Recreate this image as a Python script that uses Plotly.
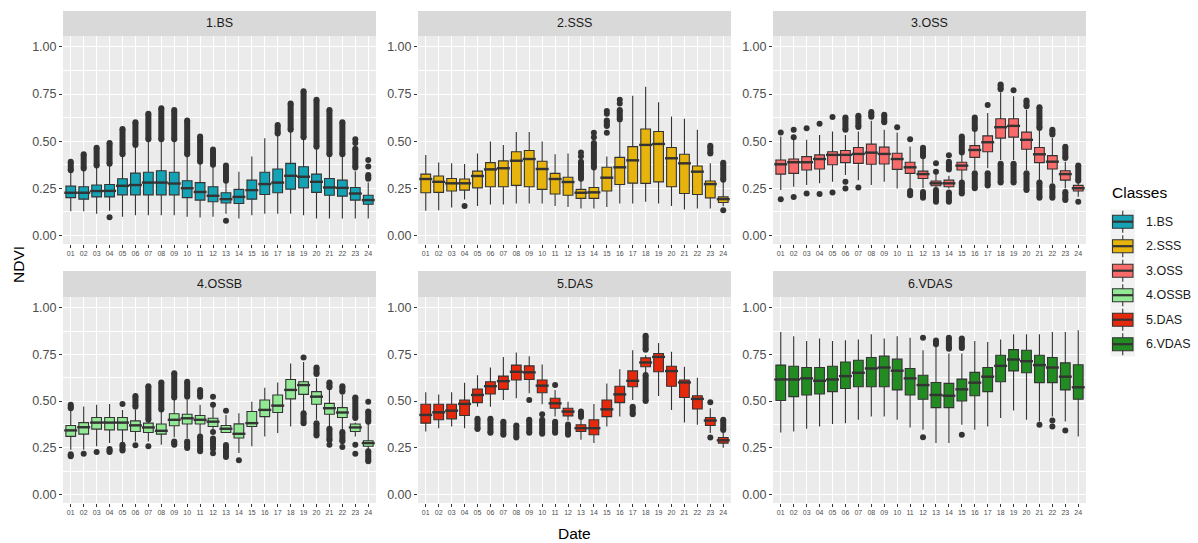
import plotly.graph_objects as go

# ---------------------------------------------------------------- data
DATES = ["01", "02", "03", "04", "05", "06", "07", "08", "09", "10", "11", "12",
         "13", "14", "15", "16", "17", "18", "19", "20", "21", "22", "23", "24"]
CLASSES = ["1.BS", "2.SSS", "3.OSS", "4.OSSB", "5.DAS", "6.VDAS"]
COLORS = ["#13A3B4", "#E6B40C", "#F86B6A", "#93E895", "#E6290C", "#228B22"]

# 1.BS
BS_LO  = [.128, .128, .115, .130, .098, .107, .107, .107, .107, .098, .094, .098, .115, .089, .107, .115, .115, .115, .107, .089, .089, .089, .089, .089]
BS_Q1  = [.200, .192, .204, .204, .215, .215, .215, .215, .215, .200, .187, .178, .172, .169, .192, .217, .226, .245, .252, .228, .213, .208, .187, .165]
BS_MED = [.226, .226, .235, .236, .263, .267, .280, .280, .275, .250, .230, .210, .192, .204, .240, .272, .280, .316, .311, .284, .254, .252, .222, .187]
BS_Q3  = [.261, .258, .267, .270, .300, .330, .335, .343, .335, .290, .280, .258, .226, .244, .293, .335, .352, .382, .364, .325, .302, .293, .254, .213]
BS_HI  = [.335, .345, .360, .370, .420, .470, .500, .500, .500, .420, .380, .370, .280, .338, .418, .515, .530, .550, .510, .460, .420, .420, .340, .280]
BS_RUNS = [("01", .345, .390), ("02", .355, .430), ("03", .370, .465), ("04", .380, .490),
           ("05", .430, .565), ("06", .480, .600), ("07", .510, .645), ("08", .510, .675),
           ("09", .510, .665), ("10", .430, .610), ("11", .390, .525), ("12", .375, .455),
           ("13", .290, .370), ("17", .540, .585), ("18", .560, .700), ("19", .520, .765),
           ("20", .470, .720), ("21", .430, .665), ("22", .430, .600), ("23", .360, .460),
           ("24", .300, .320)]
BS_PTS = [("04", .096), ("13", .078), ("23", .510), ("23", .490), ("24", .365), ("24", .400)]

# 2.SSS
SSS_LO  = [.130, .133, .148, .190, .156, .164, .164, .169, .169, .169, .156, .151, .142, .142, .151, .169, .169, .178, .169, .156, .137, .142, .142, .155]
SSS_Q1  = [.226, .228, .235, .240, .252, .258, .258, .265, .258, .244, .219, .213, .196, .196, .235, .270, .277, .276, .284, .258, .222, .217, .199, .174]
SSS_MED = [.299, .284, .276, .276, .315, .350, .356, .396, .405, .352, .299, .283, .226, .228, .306, .361, .398, .480, .485, .409, .382, .338, .272, .192]
SSS_Q3  = [.325, .315, .302, .299, .341, .386, .395, .444, .450, .393, .329, .308, .244, .254, .361, .414, .471, .564, .551, .466, .430, .368, .288, .204]
SSS_HI  = [.427, .386, .382, .379, .435, .498, .480, .548, .548, .498, .430, .435, .290, .350, .418, .600, .741, .788, .706, .631, .619, .560, .382, .285]
SSS_RUNS = [("13", .300, .390), ("14", .360, .490), ("15", .580, .610), ("16", .615, .665),
            ("23", .435, .475), ("24", .295, .385)]
SSS_PTS = [("04", .156), ("13", .420), ("13", .440), ("14", .520), ("14", .545),
           ("15", .545), ("15", .645), ("15", .660), ("16", .700), ("16", .720), ("24", .133)]

# 3.OSS
OSS_LO  = [.240, .258, .267, .276, .284, .320, .293, .267, .284, .249, .249, .250, .249, .249, .284, .347, .356, .400, .400, .347, .293, .276, .249, .205]
OSS_Q1  = [.325, .329, .347, .352, .375, .386, .382, .377, .379, .350, .329, .302, .263, .258, .347, .414, .444, .516, .521, .457, .386, .352, .293, .235]
OSS_MED = [.377, .388, .388, .405, .427, .427, .432, .439, .432, .405, .361, .325, .276, .276, .370, .453, .494, .574, .581, .507, .430, .391, .325, .250]
OSS_Q3  = [.400, .405, .418, .427, .444, .450, .466, .484, .468, .436, .388, .341, .288, .293, .388, .476, .528, .619, .619, .548, .466, .423, .343, .265]
OSS_HI  = [.524, .507, .507, .533, .551, .533, .551, .608, .560, .546, .471, .409, .329, .316, .471, .551, .649, .759, .738, .667, .556, .516, .391, .280]
OSS_RUNS = [("06", .560, .625), ("07", .575, .635), ("08", .630, .654), ("09", .600, .640),
            ("12", .420, .465), ("14", .350, .390), ("15", .440, .525), ("16", .565, .625),
            ("18", .775, .800), ("20", .685, .715), ("21", .570, .680), ("22", .535, .560),
            ("23", .410, .470), ("24", .290, .370),
            ("11", .213, .235), ("12", .200, .230), ("13", .178, .240), ("14", .178, .228),
            ("15", .222, .280), ("16", .250, .330), ("17", .265, .330), ("18", .280, .380),
            ("19", .280, .380), ("20", .240, .330), ("21", .200, .280), ("22", .200, .260),
            ("23", .187, .230)]
OSS_PTS = [("01", .546), ("01", .192), ("02", .560), ("02", .520), ("02", .204),
           ("03", .569), ("03", .222), ("04", .592), ("04", .219), ("05", .628), ("05", .228),
           ("06", .284), ("06", .249), ("07", .254), ("10", .574), ("11", .510),
           ("13", .382), ("13", .338), ("14", .425), ("17", .692), ("19", .770), ("24", .178)]

# 4.OSSB
OSSB_LO  = [.240, .240, .258, .275, .279, .284, .284, .266, .307, .302, .320, .346, .329, .222, .258, .311, .329, .364, .444, .400, .364, .346, .311, .240]
OSSB_Q1  = [.311, .323, .350, .346, .346, .337, .332, .323, .368, .377, .377, .364, .332, .302, .364, .417, .439, .512, .536, .483, .430, .412, .337, .258]
OSSB_MED = [.343, .360, .385, .385, .385, .370, .359, .341, .400, .408, .400, .390, .352, .325, .382, .453, .476, .560, .586, .524, .462, .439, .359, .275]
OSSB_Q3  = [.369, .385, .412, .412, .412, .394, .382, .377, .432, .430, .423, .408, .369, .378, .444, .506, .533, .616, .604, .551, .488, .465, .377, .288]
OSSB_HI  = [.456, .471, .480, .485, .453, .453, .395, .450, .506, .506, .480, .471, .426, .435, .497, .572, .600, .702, .710, .622, .560, .533, .385, .380]
OSSB_RUNS = [("01", .462, .480), ("06", .470, .527), ("07", .400, .580), ("08", .455, .600),
             ("09", .520, .650), ("10", .524, .604), ("11", .524, .560), ("20", .645, .680),
             ("21", .574, .600), ("22", .550, .580), ("23", .410, .520), ("24", .390, .445),
             ("01", .205, .215), ("04", .227, .243), ("05", .236, .266), ("09", .266, .284),
             ("10", .249, .284), ("11", .231, .311), ("12", .260, .300), ("13", .200, .265),
             ("19", .382, .435), ("20", .316, .382), ("21", .290, .352), ("22", .285, .334),
             ("24", .178, .231)]
OSSB_PTS = [("02", .218), ("03", .227), ("05", .485), ("06", .263), ("07", .258),
            ("12", .524), ("12", .480), ("12", .335), ("12", .245), ("12", .220),
            ("13", .448), ("14", .183), ("19", .734), ("21", .266), ("22", .254),
            ("23", .266), ("23", .218), ("24", .497)]

# 5.DAS
DAS_LO  = [.337, .355, .364, .355, .470, .470, .506, .515, .542, .483, .417, .396, .293, .275, .364, .417, .506, .645, .528, .453, .385, .373, .329, .250]
DAS_Q1  = [.382, .400, .405, .423, .492, .538, .563, .613, .616, .545, .462, .421, .337, .320, .417, .492, .577, .684, .657, .580, .519, .458, .369, .275]
DAS_MED = [.426, .440, .449, .485, .533, .580, .607, .657, .654, .583, .488, .444, .355, .355, .456, .536, .609, .707, .737, .661, .600, .512, .396, .290]
DAS_Q3  = [.483, .483, .483, .506, .565, .604, .634, .693, .689, .613, .515, .462, .373, .400, .506, .580, .662, .732, .755, .687, .613, .529, .412, .305]
DAS_HI  = [.547, .536, .547, .599, .639, .680, .737, .760, .741, .696, .560, .497, .408, .485, .595, .671, .773, .746, .812, .764, .684, .625, .462, .330]
DAS_RUNS = [("05", .350, .405), ("06", .330, .405), ("07", .320, .390), ("08", .305, .370),
            ("09", .330, .400), ("10", .325, .400), ("11", .330, .390), ("12", .320, .375),
            ("17", .430, .470), ("18", .500, .640), ("13", .415, .445), ("18", .775, .850),
            ("24", .345, .400)]
DAS_PTS = [("09", .506), ("10", .430), ("11", .586), ("23", .494), ("23", .305)]

# 6.VDAS
VDAS_LO  = [.332, .337, .352, .364, .377, .382, .400, .417, .417, .400, .359, .346, .275, .275, .373, .346, .364, .409, .450, .400, .391, .417, .391, .311]
VDAS_Q1  = [.503, .524, .533, .538, .551, .568, .577, .577, .577, .560, .533, .510, .465, .465, .501, .529, .551, .604, .662, .652, .599, .599, .560, .510]
VDAS_MED = [.616, .616, .622, .609, .616, .634, .652, .675, .680, .663, .622, .586, .533, .529, .563, .599, .631, .689, .723, .714, .693, .680, .631, .574]
VDAS_Q3  = [.693, .687, .680, .680, .687, .710, .719, .734, .741, .725, .675, .639, .600, .595, .618, .654, .680, .746, .776, .773, .746, .734, .705, .695]
VDAS_HI  = [.870, .847, .822, .835, .822, .826, .830, .858, .835, .847, .840, .773, .790, .755, .755, .822, .817, .830, .858, .858, .858, .870, .870, .880]
VDAS_RUNS = [("13", .805, .825), ("14", .780, .840), ("15", .785, .835)]
VDAS_PTS = [("12", .840), ("12", .307), ("15", .320), ("21", .373), ("22", .396), ("22", .364), ("23", .343)]

Y_TICKS = [0, 0.25, 0.5, 0.75, 1.0]
Y_TICK_TEXT = ["0.00", "0.25", "0.50", "0.75", "1.00"]

STATS = [
    (BS_LO, BS_Q1, BS_MED, BS_Q3, BS_HI, BS_RUNS, BS_PTS),
    (SSS_LO, SSS_Q1, SSS_MED, SSS_Q3, SSS_HI, SSS_RUNS, SSS_PTS),
    (OSS_LO, OSS_Q1, OSS_MED, OSS_Q3, OSS_HI, OSS_RUNS, OSS_PTS),
    (OSSB_LO, OSSB_Q1, OSSB_MED, OSSB_Q3, OSSB_HI, OSSB_RUNS, OSSB_PTS),
    (DAS_LO, DAS_Q1, DAS_MED, DAS_Q3, DAS_HI, DAS_RUNS, DAS_PTS),
    (VDAS_LO, VDAS_Q1, VDAS_MED, VDAS_Q3, VDAS_HI, VDAS_RUNS, VDAS_PTS),
]

# ---------------------------------------------------------------- geometry (pixels)
W, H = 1198, 543
ML, MR, MT, MB = 63, 112, 11, 40
PW, PH = W - ML - MR, H - MT - MB


def fx(px):
    return (px - ML) / PW


def fy(py):
    return (H - MB - py) / PH


COLS_PX = [(63, 376), (418, 731), (773, 1086)]
ROWS_PX = [(36, 244), (297, 503)]       # plot areas (top, bottom)
STRIPS_PX = [(11, 36), (271, 297)]      # strip bands (top, bottom)

INK = "#333333"
TXT = "#4D4D4D"
FONT = "Liberation Sans, Arial, sans-serif"

fig = go.Figure()
layout = {}
shapes = []
annotations = []

for k, (name, color, st) in enumerate(zip(CLASSES, COLORS, STATS)):
    lo, q1, med, q3, hi, runs, pts = st
    row, col = divmod(k, 3)
    xa, ya = f"x{k + 1}", f"y{k + 1}"

    fig.add_trace(go.Box(
        x=DATES, q1=q1, median=med, q3=q3, lowerfence=lo, upperfence=hi,
        orientation="v", width=0.75, whiskerwidth=0, boxpoints=False,
        fillcolor=color, line=dict(color=INK, width=1.1),
        xaxis=xa, yaxis=ya, showlegend=False, hoverinfo="skip"))

    # thicker median bars
    fig.add_trace(go.Scatter(
        x=DATES, y=med, mode="markers", xaxis=xa, yaxis=ya,
        marker=dict(symbol="line-ew", size=9.3, line=dict(width=2.4, color=INK)),
        showlegend=False, hoverinfo="skip"))

    # dense outlier columns
    rx, ry = [], []
    for d, a, b in runs:
        rx += [d, d, None]
        ry += [a, b, None]
    fig.add_trace(go.Scatter(
        x=rx, y=ry, mode="lines+markers", xaxis=xa, yaxis=ya,
        line=dict(color=INK, width=6), marker=dict(color=INK, size=6),
        connectgaps=False, showlegend=False, hoverinfo="skip"))

    # isolated outliers
    fig.add_trace(go.Scatter(
        x=[p[0] for p in pts], y=[p[1] for p in pts], mode="markers",
        xaxis=xa, yaxis=ya, marker=dict(color=INK, size=6),
        showlegend=False, hoverinfo="skip"))

    x0, x1 = COLS_PX[col]
    top, bot = ROWS_PX[row]
    sfx = "" if k == 0 else str(k + 1)
    layout["xaxis" + sfx] = dict(
        domain=[fx(x0), fx(x1)], anchor=ya, type="category",
        categoryorder="array", categoryarray=DATES, range=[-0.6, 23.6],
        showgrid=True, gridcolor="white", gridwidth=1.2, zeroline=False,
        showline=False, ticks="outside", ticklen=3, tickwidth=1, tickcolor=INK,
        tickfont=dict(size=7, color=TXT, family=FONT), fixedrange=True)
    layout["yaxis" + sfx] = dict(
        domain=[fy(bot), fy(top)], anchor=xa, range=[-0.046, 1.058],
        tickvals=Y_TICKS, ticktext=Y_TICK_TEXT, showgrid=True, gridcolor="white",
        gridwidth=1.2, zeroline=False, showline=False, ticks="outside",
        ticklen=3, tickwidth=1, tickcolor=INK,
        tickfont=dict(size=12.5, color=TXT, family=FONT),
        minor=dict(tickvals=[0.125, 0.375, 0.625, 0.875], showgrid=True,
                   gridcolor="white", gridwidth=0.6, ticks=""),
        fixedrange=True)

    # facet strip
    s_top, s_bot = STRIPS_PX[row]
    shapes.append(dict(type="rect", xref="paper", yref="paper",
                       x0=fx(x0), x1=fx(x1), y0=fy(s_bot), y1=fy(s_top),
                       fillcolor="#D9D9D9", line=dict(width=0), layer="below"))
    annotations.append(dict(text=name, xref="paper", yref="paper",
                            x=fx((x0 + x1) / 2), y=fy((s_top + s_bot) / 2),
                            xanchor="center", yanchor="middle", showarrow=False,
                            font=dict(size=12.5, color="#1A1A1A", family=FONT)))

# axis titles
annotations.append(dict(text="Date", xref="paper", yref="paper",
                        x=fx(574.5), y=fy(533), xanchor="center", yanchor="middle",
                        showarrow=False, font=dict(size=15.5, color="black", family=FONT)))
annotations.append(dict(text="NDVI", xref="paper", yref="paper", textangle=-90,
                        x=fx(18), y=fy(265), xanchor="center", yanchor="middle",
                        showarrow=False, font=dict(size=15.5, color="black", family=FONT)))

# legend drawn as keys
annotations.append(dict(text="Classes", xref="paper", yref="paper",
                        x=fx(1110), y=fy(192), xanchor="left", yanchor="middle",
                        showarrow=False, font=dict(size=15.5, color="black", family=FONT)))
KEY_Y = [221.7, 246.2, 270.7, 295.2, 319.7, 344.2]
for name, color, cy in zip(CLASSES, COLORS, KEY_Y):
    shapes.append(dict(type="rect", xref="paper", yref="paper",
                       x0=fx(1110.5), x1=fx(1135), y0=fy(cy + 12.2), y1=fy(cy - 12.2),
                       fillcolor="#F2F2F2", line=dict(width=0)))
    shapes.append(dict(type="line", xref="paper", yref="paper",
                       x0=fx(1122.75), x1=fx(1122.75), y0=fy(cy + 11), y1=fy(cy - 11),
                       line=dict(color=INK, width=1.1)))
    shapes.append(dict(type="rect", xref="paper", yref="paper",
                       x0=fx(1112.5), x1=fx(1133), y0=fy(cy + 6.5), y1=fy(cy - 6.5),
                       fillcolor=color, line=dict(color=INK, width=1.1)))
    shapes.append(dict(type="line", xref="paper", yref="paper",
                       x0=fx(1112.5), x1=fx(1133), y0=fy(cy), y1=fy(cy),
                       line=dict(color=INK, width=2.2)))
    annotations.append(dict(text=name, xref="paper", yref="paper",
                            x=fx(1144), y=fy(cy), xanchor="left", yanchor="middle",
                            showarrow=False,
                            font=dict(size=12.5, color="#1A1A1A", family=FONT)))

fig.update_layout(
    width=W, height=H, margin=dict(l=ML, r=MR, t=MT, b=MB, pad=0),
    paper_bgcolor="white", plot_bgcolor="#EBEBEB",
    font=dict(family=FONT), showlegend=False,
    shapes=shapes, annotations=annotations, **layout)

fig.write_html("out.html", config={"displayModeBar": False})
